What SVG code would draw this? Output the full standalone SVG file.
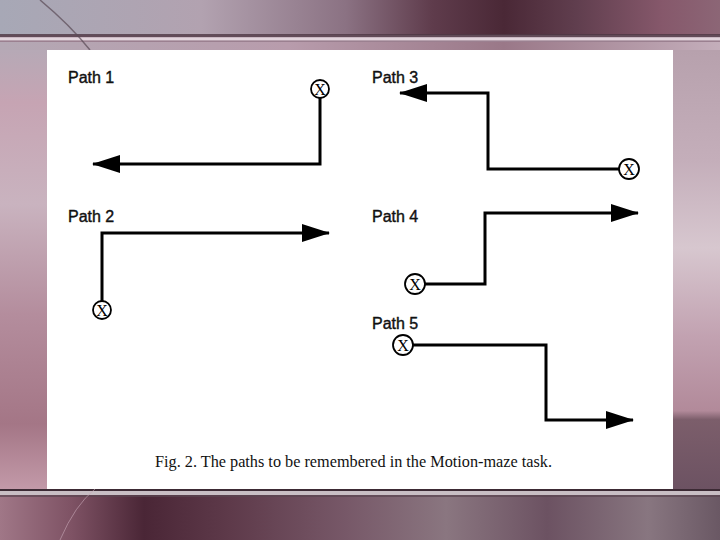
<svg xmlns="http://www.w3.org/2000/svg" width="720" height="540" viewBox="0 0 720 540">
<defs>
<linearGradient id="topband" x1="0" y1="0" x2="1" y2="0">
<stop offset="0" stop-color="#a7a8b6"/>
<stop offset="0.28" stop-color="#b2a2b0"/>
<stop offset="0.48" stop-color="#8b7283"/>
<stop offset="0.6" stop-color="#5f3c4c"/>
<stop offset="0.7" stop-color="#4a2836"/>
<stop offset="0.8" stop-color="#603e4e"/>
<stop offset="0.92" stop-color="#86586b"/>
<stop offset="1" stop-color="#8c6676"/>
</linearGradient>
<linearGradient id="under" x1="0" y1="0" x2="1" y2="0">
<stop offset="0" stop-color="#b4a8b4"/>
<stop offset="0.4" stop-color="#b89cac"/>
<stop offset="0.7" stop-color="#9a7888"/>
<stop offset="1" stop-color="#c4aebb"/>
</linearGradient>
<linearGradient id="leftm" x1="0" y1="0" x2="0" y2="1">
<stop offset="0" stop-color="#b6a9b6"/>
<stop offset="0.12" stop-color="#c6a4b3"/>
<stop offset="0.35" stop-color="#c9b3bf"/>
<stop offset="0.6" stop-color="#b48d9d"/>
<stop offset="0.85" stop-color="#a47686"/>
<stop offset="1" stop-color="#c39aa9"/>
</linearGradient>
<linearGradient id="rightm" x1="0" y1="0" x2="0" y2="1">
<stop offset="0" stop-color="#b7a1ad"/>
<stop offset="0.25" stop-color="#c4aeba"/>
<stop offset="0.45" stop-color="#d7c7cf"/>
<stop offset="0.65" stop-color="#c2a2b1"/>
<stop offset="0.82" stop-color="#b28a9a"/>
<stop offset="0.84" stop-color="#7c5e6b"/>
<stop offset="1" stop-color="#6c5262"/>
</linearGradient>
<linearGradient id="botband" x1="0" y1="0" x2="1" y2="0">
<stop offset="0" stop-color="#a07787"/>
<stop offset="0.1" stop-color="#7e5264"/>
<stop offset="0.2" stop-color="#4a2636"/>
<stop offset="0.32" stop-color="#5e3a4a"/>
<stop offset="0.48" stop-color="#775868"/>
<stop offset="0.62" stop-color="#8a7680"/>
<stop offset="0.76" stop-color="#6c5262"/>
<stop offset="0.9" stop-color="#887680"/>
<stop offset="1" stop-color="#6a5864"/>
</linearGradient>
<marker id="ah" markerUnits="userSpaceOnUse" markerWidth="28" markerHeight="20" viewBox="0 0 28 20" refX="27" refY="10" orient="auto">
<path d="M0,1 L28,10 L0,19 Z" fill="#000"/>
</marker>
</defs>
<style>
.lbl{font-family:"Liberation Sans",Arial,sans-serif;font-size:16px;fill:#111;stroke:#111;stroke-width:0.4}
.path{fill:none;stroke:#000;stroke-width:3;marker-end:url(#ah)}
.ring{fill:#fff;stroke:#000;stroke-width:1.8}
.x{font-family:"Liberation Serif","Times New Roman",serif;font-size:16px;fill:#000;text-anchor:middle}
.cap{font-family:"Liberation Serif","Times New Roman",serif;font-size:17px;fill:#111}
</style>
<g id="background">
<rect x="0" y="0" width="720" height="540" fill="#b39aa8"/>
<rect x="0" y="0" width="720" height="35" fill="url(#topband)"/>
<rect x="0" y="34" width="720" height="3" fill="#4e3744" opacity="0.8"/>
<rect x="0" y="37.5" width="720" height="3" fill="#e2d4dc"/>
<rect x="0" y="40.5" width="720" height="1.5" fill="#8a7080" opacity="0.6"/>
<rect x="0" y="42" width="720" height="8" fill="url(#under)"/>
<rect x="0" y="50" width="47" height="440" fill="url(#leftm)"/>
<rect x="673" y="50" width="47" height="440" fill="url(#rightm)"/>
<rect x="0" y="489" width="720" height="51" fill="url(#botband)"/>
<rect x="0" y="489" width="720" height="2" fill="#3c2a34"/>
<rect x="0" y="491" width="720" height="4" fill="#c8bec4"/>
<rect x="0" y="495" width="720" height="2" fill="#5a4450" opacity="0.7"/>
<path d="M40,0 Q70,25 90,50" stroke="#5a4a56" stroke-width="1.5" fill="none" opacity="0.7"/>
<path d="M60,540 Q75,505 95,489" stroke="#c8a8b8" stroke-width="1" fill="none" opacity="0.6"/>
</g>
<rect id="panel" x="47" y="50" width="626" height="439" fill="#fff"/>
<g id="connectors">
<path class="path" d="M320,98 V164 H93"/>
<path class="path" d="M102,301 V233 H329"/>
<path class="path" d="M619,169 H488 V93 H400"/>
<path class="path" d="M425,284 H485 V213 H638"/>
<path class="path" d="M413,345 H546 V420 H633"/>
</g>
<g id="path1">
<text class="lbl" x="68" y="83">Path 1</text>
<circle class="ring" cx="320" cy="89" r="9"/>
<text class="x" x="320" y="95">X</text>
</g>
<g id="path2">
<text class="lbl" x="68" y="222">Path 2</text>
<circle class="ring" cx="102" cy="310" r="9"/>
<text class="x" x="102" y="316">X</text>
</g>
<g id="path3">
<text class="lbl" x="372" y="83">Path 3</text>
<circle class="ring" cx="629" cy="169" r="10"/>
<text class="x" x="629" y="175">X</text>
</g>
<g id="path4">
<text class="lbl" x="372" y="222">Path 4</text>
<circle class="ring" cx="415" cy="284" r="10"/>
<text class="x" x="415" y="290">X</text>
</g>
<g id="path5">
<text class="lbl" x="372" y="329">Path 5</text>
<circle class="ring" cx="403" cy="345" r="10"/>
<text class="x" x="403" y="351">X</text>
</g>
<text class="cap" x="155" y="467" textLength="397" lengthAdjust="spacingAndGlyphs">Fig. 2. The paths to be remembered in the Motion-maze task.</text>
</svg>
